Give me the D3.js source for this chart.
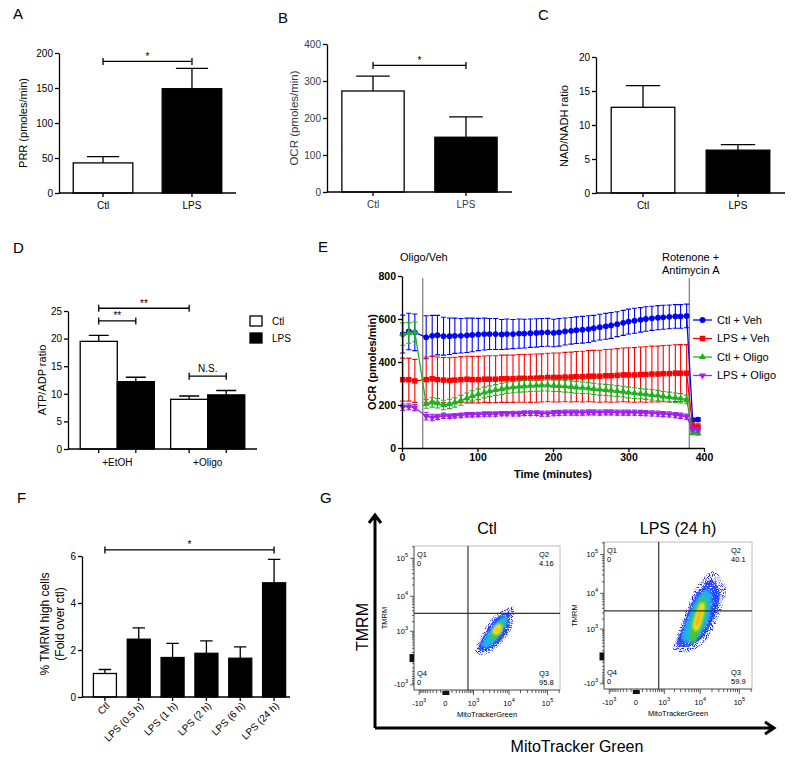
<!DOCTYPE html>
<html lang="en">
<head>
<meta charset="utf-8">
<title>Metabolic profile of LPS-treated cells</title>
<script src="https://d3js.org/d3.v7.min.js"></script>
<style>
  body { margin: 0; background: #fff; }
  svg { font-family: "Liberation Sans", Arial, Helvetica, sans-serif; }
  .letter { font-size: 15px; }
  .axis text { font-family: "Liberation Sans", Arial, sans-serif; font-size: 10px; }
  .bold text { font-weight: bold; font-size: 10.5px; }
  .flow text { font-size: 7.5px; }
</style>
</head>
<body>
<div id="frame"></div>
<script>
// ---------- data ----------
const ctlLps = ["Ctl", "LPS"];

// A - proton release rate
const prrMean = [43, 149];
const prrErr = [9, 29];

// B - oxygen consumption rate
const ocrMean = [273, 148];
const ocrErr = [40, 55];

// C - NAD/NADH ratio
const nadMean = [12.6, 6.3];
const nadErr = [3.2, 0.8];

// D - ATP/ADP ratio
const atpGroups = ["+EtOH", "+Oligo"];
const atpCtl = [19.5, 9.0];
const atpCtlErr = [1.1, 0.6];
const atpLps = [12.2, 9.8];
const atpLpsErr = [0.8, 0.8];

// E - OCR trace (minutes)
const eTime = [1, 9, 17, 32, 40, 47, 55, 63, 70, 78, 86, 93, 101, 109, 116, 124, 132, 139, 147, 155, 162, 170, 178,
  185, 193, 201, 208, 216, 224, 231, 239, 247, 254, 262, 270, 277, 285, 293, 300, 308, 316, 323, 331,
  339, 346, 354, 362, 369, 377, 385, 392];
const ctlVeh = [530, 542, 538, 515, 522, 525, 520, 520, 522, 522, 524, 526, 528, 530, 530, 530, 528, 530, 530, 532, 532, 534, 535,
  537, 538, 535, 538, 542, 545, 548, 550, 553, 557, 562, 566, 570, 576, 582, 588, 592, 596, 600, 603,
  606, 608, 610, 612, 612, 614, 130, 132];
const ctlVehErr = [88, 85, 85, 100, 95, 92, 88, 85, 82, 80, 80, 78, 75, 74, 72, 72, 70, 70, 68, 68, 67, 66, 66,
  65, 65, 64, 64, 63, 62, 62, 62, 62, 60, 60, 60, 60, 58, 58, 58, 58, 57, 57, 56,
  56, 56, 55, 55, 55, 55, 8, 8];
const lpsVeh = [318, 318, 312, 318, 322, 318, 316, 314, 316, 318, 320, 318, 318, 320, 320, 320, 322, 322, 322, 324, 324, 324, 325,
  326, 328, 328, 328, 330, 330, 332, 332, 334, 334, 334, 336, 336, 338, 340, 340, 340, 342, 342, 344,
  344, 346, 346, 348, 348, 348, 100, 98];
const lpsVehErr = [100, 100, 100, 105, 105, 105, 105, 106, 106, 107, 107, 108, 108, 108, 109, 109, 110, 110, 110, 111, 111, 112, 112,
  112, 113, 114, 114, 115, 116, 117, 118, 119, 120, 121, 122, 123, 124, 125, 126, 127, 128, 129, 130,
  130, 131, 132, 132, 133, 133, 15, 15];
const ctlOligo = [530, 535, 540, 205, 212, 208, 200, 205, 212, 222, 232, 242, 250, 258, 264, 270, 275, 280, 283, 286, 288, 290, 291,
  292, 292, 290, 289, 287, 285, 282, 280, 278, 275, 272, 270, 268, 265, 262, 258, 255, 253, 250, 247,
  244, 240, 237, 234, 231, 226, 72, 70];
const ctlOligoErr = [52, 48, 46, 20, 22, 22, 22, 22, 22, 23, 24, 24, 25, 25, 25, 25, 26, 26, 26, 26, 27, 27, 27,
  27, 27, 27, 27, 27, 27, 27, 27, 26, 26, 26, 26, 26, 25, 25, 25, 25, 24, 24, 24,
  24, 23, 23, 22, 22, 20, 10, 10];
const lpsOligo = [190, 192, 188, 148, 142, 145, 150, 148, 150, 152, 155, 155, 156, 158, 158, 158, 160, 160, 160, 160, 162, 162, 162,
  160, 160, 162, 163, 164, 165, 165, 165, 166, 166, 165, 166, 166, 165, 165, 164, 164, 163, 162, 161,
  160, 158, 156, 153, 150, 146, 88, 85];
const lpsOligoErr = [15, 14, 14, 18, 15, 12, 12, 10, 10, 10, 10, 10, 10, 10, 10, 10, 10, 10, 11, 11, 11, 11, 11,
  12, 12, 12, 12, 12, 12, 12, 12, 12, 12, 12, 12, 12, 12, 12, 12, 12, 12, 12, 12,
  12, 12, 12, 12, 12, 12, 10, 10];
const eSeries = ["Ctl + Veh", "LPS + Veh", "Ctl + Oligo", "LPS + Oligo"];
const eInject = [27.4, 380.6];

// F - TMRM high cells
const tmrmCats = ["Ctl", "LPS (0.5 h)", "LPS (1 h)", "LPS (2 h)", "LPS (6 h)", "LPS (24 h)"];
const tmrmMean = [1.0, 2.46, 1.68, 1.86, 1.65, 4.86];
const tmrmErr = [0.17, 0.48, 0.6, 0.53, 0.48, 1.0];

// G - flow cytometry (MitoTracker Green vs TMRM)
const flowTitles = ["Ctl", "LPS (24 h)"];
const quadNames = ["Q1", "Q2", "Q3", "Q4"];
const quadCtl = ["0", "4.16", "95.8", "0"];
const quadLps = ["0", "40.1", "59.9", "0"];
const flowMajor = [-1000, 0, 1000, 10000, 100000];
const flowMinor = [-900, -800, -700, -600, -500, -400, -300, -200, -100, 100, 200, 300, 400, 500, 600, 700, 800, 900,
  2000, 3000, 4000, 5000, 6000, 7000, 8000, 9000, 20000, 30000, 40000, 50000, 60000, 70000, 80000, 90000, 200000];
const gateCtl = [650, 3400];
const gateLps = [650, 3400];
// density contour outlines, outer to inner, [MitoTracker, TMRM]
const ctlContours = [
  [[1145, 86], [1622, 620], [3557, 2580], [7940, 4290], [12950, 5190], [12150, 1420], [6620, 400], [2765, 86]],
  [[1420, 178], [1990, 676], [4046, 2265], [8380, 3560], [10760, 3130], [9570, 1220], [5190, 356], [2400, 155]],
  [[1860, 295], [2765, 920], [5190, 2135], [8380, 2950], [8380, 1620], [4535, 480], [2580, 232]],
  [[3130, 564], [4046, 1220], [6180, 1990], [7060, 1520], [5190, 676]],
  [[4046, 920], [4860, 1420], [5850, 1420], [5190, 920]]
];
const lpsContours = [
  [[1860, 132], [2950, 1220], [5520, 7060], [10170, 20700], [22130, 37500], [45300, 13750], [31700, 2765], [15340, 440], [5190, 86]],
  [[2400, 262], [3560, 1420], [6180, 6180], [11360, 15340], [20700, 22130], [31700, 9570], [23560, 2400], [12150, 564], [5190, 201]],
  [[3313, 480], [4535, 1860], [7500, 6180], [13750, 12150], [19630, 8380], [17500, 2400], [10170, 676], [5190, 356]],
  [[5520, 400], [6180, 1723], [9570, 6180], [12950, 7500], [13750, 3313], [9570, 844], [7060, 356]],
  [[7060, 1220], [8970, 3313], [11360, 5190], [11360, 3313], [8380, 1070]]
];

// ---------- drawing ----------
const svg = d3.select("#frame").append("svg")
  .attr("width", 800).attr("height", 767);

const defs = svg.append("defs");
defs.append("filter").attr("id", "soft")
  .append("feGaussianBlur").attr("stdDeviation", 1.2);

// grainy look for the sparse outer events of the density plots
function speckle(id, cut, seed) {
  const f = defs.append("filter").attr("id", id)
    .attr("x", "-5%").attr("y", "-5%").attr("width", "110%").attr("height", "110%");
  f.append("feTurbulence").attr("type", "fractalNoise").attr("baseFrequency", 0.95)
    .attr("numOctaves", 1).attr("seed", seed).attr("result", "noise");
  f.append("feColorMatrix").attr("in", "noise").attr("type", "matrix")
    .attr("values", `0 0 0 0 0  0 0 0 0 0  0 0 0 0 0  6 0 0 0 ${cut}`).attr("result", "mask");
  f.append("feComposite").attr("in", "SourceGraphic").attr("in2", "mask").attr("operator", "in");
}
speckle("grainSparse", -2.9, 3);
speckle("grainDense", -1.9, 7);

function letter(t, x, y) {
  svg.append("text").attr("class", "letter").attr("x", x).attr("y", y).text(t);
}

function vLabel(lines, cx, cy, size, color, weight) {
  const t = svg.append("text")
    .attr("transform", `translate(${cx},${cy}) rotate(-90)`)
    .attr("text-anchor", "middle")
    .attr("font-size", size)
    .attr("fill", color || "#000")
    .attr("font-weight", weight || "normal");
  lines.forEach((l, i) => t.append("tspan").attr("x", 0)
    .attr("dy", i === 0 ? `${0.35 - (lines.length - 1) * 0.625}em` : "1.25em").text(l));
}

function thick(a, color) {
  a.selectAll("path, line").attr("stroke", "#000").attr("stroke-width", 1.3);
  a.selectAll("text").attr("fill", color || "#000");
}

function bracket(g, x1, x2, yy, label) {
  g.append("path")
    .attr("d", `M${x1},${yy - 3.5}V${yy + 3.5}M${x1},${yy}H${x2}M${x2},${yy - 3.5}V${yy + 3.5}`)
    .attr("stroke", "#000").attr("stroke-width", 1.3).attr("fill", "none");
  g.append("text").attr("x", (x1 + x2) / 2).attr("y", yy - (label === "N.S." ? 4 : 1.5))
    .attr("text-anchor", "middle").attr("font-size", 10).attr("fill", "#000").text(label);
}

const intFmt = d3.format("~g");

// simple two/many-bar panel
function barPanel(o) {
  const g = svg.append("g");
  const y = d3.scaleLinear().domain([0, o.ymax]).range([o.bottom, o.top]);
  const x = d3.scaleBand().domain(o.cats).range(o.band).paddingInner(o.pi).paddingOuter(o.po);
  const bw = x.bandwidth();

  g.selectAll("path.err").data(o.cats).join("path")
    .attr("d", (d, i) => {
      const cx = x(d) + bw / 2, c = bw * 0.27, top = y(o.means[i] + o.errs[i]);
      return `M${cx},${y(o.means[i])}V${top}M${cx - c},${top}H${cx + c}`;
    })
    .attr("stroke", "#000").attr("stroke-width", 1.3).attr("fill", "none");

  g.selectAll("rect").data(o.cats).join("rect")
    .attr("x", d => x(d)).attr("width", bw)
    .attr("y", (d, i) => y(o.means[i]))
    .attr("height", (d, i) => y(0) - y(o.means[i]))
    .attr("fill", (d, i) => o.fills[i])
    .attr("stroke", "#000").attr("stroke-width", 1.3);

  const ya = g.append("g").attr("class", "axis")
    .attr("transform", `translate(${o.left},0)`)
    .call(d3.axisLeft(y).tickValues(o.yticks).tickFormat(intFmt).tickSize(4).tickPadding(2).tickSizeOuter(0));
  thick(ya, o.color);

  const xa = g.append("g").attr("class", "axis")
    .attr("transform", `translate(0,${y(0)})`)
    .call(d3.axisBottom(x).tickSize(4).tickPadding(5).tickSizeOuter(0));
  xa.select(".domain").remove();
  xa.append("line").attr("x1", o.left).attr("x2", o.right);
  thick(xa, o.color);
  if (o.rotate) {
    xa.selectAll(".tick text")
      .attr("y", 0).attr("dy", "0.35em")
      .attr("text-anchor", "end")
      .attr("transform", "translate(3,7) rotate(-45)");
  }

  (o.sig || []).forEach(s => {
    bracket(g, x(o.cats[s.a]) + bw / 2, x(o.cats[s.b]) + bw / 2, y(s.y), s.text);
  });
  return g;
}

// ---- A ----
letter("A", 13, 19);
barPanel({
  cats: ctlLps, means: prrMean, errs: prrErr, fills: ["#fff", "#000"],
  ymax: 200, yticks: [0, 50, 100, 150, 200],
  left: 59, right: 236, top: 53, bottom: 193, band: [59, 236], pi: 0.33, po: 0.16,
  sig: [{ a: 0, b: 1, y: 188, text: "*" }]
});
vLabel(["PRR (pmoles/min)"], 23, 123, 11);

// ---- B ----
const bColor = "#333b4a";
letter("B", 278, 23);
barPanel({
  cats: ctlLps, means: ocrMean, errs: ocrErr, fills: ["#fff", "#000"], color: bColor,
  ymax: 400, yticks: [0, 100, 200, 300, 400],
  left: 327, right: 512, top: 44, bottom: 192, band: [327, 512], pi: 0.33, po: 0.16,
  sig: [{ a: 0, b: 1, y: 342, text: "*" }]
});
vLabel(["OCR (pmoles/min)"], 294, 118, 11.5, bColor);

// ---- C ----
letter("C", 538, 20);
barPanel({
  cats: ctlLps, means: nadMean, errs: nadErr, fills: ["#fff", "#000"],
  ymax: 20, yticks: [0, 5, 10, 15, 20],
  left: 596, right: 785, top: 57, bottom: 193, band: [596, 785], pi: 0.33, po: 0.16
});
vLabel(["NAD/NADH ratio"], 564, 126, 11);

// ---- D ----
letter("D", 13, 253);
(function () {
  const g = svg.append("g");
  const left = 68, right = 257, top = 311, bottom = 449;
  const y = d3.scaleLinear().domain([0, 25]).range([bottom, top]);
  const xG = d3.scaleBand().domain(atpGroups).range([left, right]).paddingInner(0.18).paddingOuter(0.135);
  const xC = d3.scaleBand().domain(ctlLps).range([0, xG.bandwidth()]);
  const rows = atpGroups.flatMap((grp, gi) => [
    { grp, cat: "Ctl", m: atpCtl[gi], e: atpCtlErr[gi], fill: "#fff" },
    { grp, cat: "LPS", m: atpLps[gi], e: atpLpsErr[gi], fill: "#000" }
  ]);
  const cx = d => xG(d.grp) + xC(d.cat) + xC.bandwidth() / 2;
  const bw = xC.bandwidth();

  g.selectAll("path.err").data(rows).join("path")
    .attr("d", d => `M${cx(d)},${y(d.m)}V${y(d.m + d.e)}M${cx(d) - bw * 0.27},${y(d.m + d.e)}H${cx(d) + bw * 0.27}`)
    .attr("stroke", "#000").attr("stroke-width", 1.3);
  g.selectAll("rect").data(rows).join("rect")
    .attr("x", d => xG(d.grp) + xC(d.cat)).attr("width", bw)
    .attr("y", d => y(d.m)).attr("height", d => y(0) - y(d.m))
    .attr("fill", d => d.fill).attr("stroke", "#000").attr("stroke-width", 1.3);

  const ya = g.append("g").attr("class", "axis").attr("transform", `translate(${left},0)`)
    .call(d3.axisLeft(y).tickValues([0, 5, 10, 15, 20, 25]).tickFormat(intFmt).tickSize(4).tickPadding(2).tickSizeOuter(0));
  thick(ya);
  g.append("line").attr("x1", left).attr("x2", right).attr("y1", y(0)).attr("y2", y(0))
    .attr("stroke", "#000").attr("stroke-width", 1.3);
  g.selectAll("line.tk").data(rows).join("line")
    .attr("x1", cx).attr("x2", cx).attr("y1", y(0)).attr("y2", y(0) + 4)
    .attr("stroke", "#000").attr("stroke-width", 1.3);
  g.selectAll("text.grp").data(atpGroups).join("text")
    .attr("x", d => xG(d) + xG.bandwidth() / 2).attr("y", y(0) + 17)
    .attr("text-anchor", "middle").attr("font-size", 10).text(d => d);

  const pos = (grp, cat) => rows.find(r => r.grp === grp && r.cat === cat);
  bracket(g, cx(pos("+EtOH", "Ctl")), cx(pos("+Oligo", "Ctl")), y(25.5), "**");
  bracket(g, cx(pos("+EtOH", "Ctl")), cx(pos("+EtOH", "LPS")), y(23.2), "**");
  bracket(g, cx(pos("+Oligo", "Ctl")), cx(pos("+Oligo", "LPS")), y(13.2), "N.S.");

  // legend
  const lg = g.selectAll("g.leg").data(ctlLps).join("g")
    .attr("transform", (d, i) => `translate(250,${316 + i * 17})`);
  lg.append("rect").attr("width", 12).attr("height", 10)
    .attr("fill", (d, i) => i === 0 ? "#fff" : "#000").attr("stroke", "#000").attr("stroke-width", 1.3);
  lg.append("text").attr("x", 22).attr("y", 8.5).attr("font-size", 10).text(d => d);
})();
vLabel(["ATP/ADP ratio"], 42, 380, 11);

// ---- E ----
letter("E", 318, 252);
(function () {
  const g = svg.append("g");
  const x = d3.scaleLinear().domain([0, 400]).range([402, 704]);
  const y = d3.scaleLinear().domain([0, 800]).range([448, 276]);

  eInject.forEach(t => g.append("line")
    .attr("x1", x(t)).attr("x2", x(t)).attr("y1", y(790)).attr("y2", y(0))
    .attr("stroke", "#8a8a8a").attr("stroke-width", 1.4));

  const styles = [
    { color: "#0000ff", sym: d3.symbolCircle, size: 26, rot: 0 },
    { color: "#ff0000", sym: d3.symbolSquare, size: 30, rot: 0 },
    { color: "#1db31d", sym: d3.symbolTriangle, size: 22, rot: 0 },
    { color: "#a020f0", sym: d3.symbolTriangle, size: 22, rot: 180 }
  ];
  const means = [ctlVeh, lpsVeh, ctlOligo, lpsOligo];
  const errs = [ctlVehErr, lpsVehErr, ctlOligoErr, lpsOligoErr];

  eSeries.forEach((name, si) => {
    const st = styles[si];
    const pts = eTime.map((t, i) => ({ t, m: means[si][i], e: errs[si][i] }));
    const sg = g.append("g");
    sg.selectAll("path.err").data(pts).join("path")
      .attr("d", d => {
        const px = x(d.t), lo = y(d.m - d.e), hi = y(d.m + d.e);
        return `M${px},${lo}V${hi}M${px - 2.6},${hi}H${px + 2.6}M${px - 2.6},${lo}H${px + 2.6}`;
      })
      .attr("stroke", st.color).attr("stroke-width", 1.1).attr("fill", "none");
    sg.append("path").datum(pts)
      .attr("d", d3.line().x(d => x(d.t)).y(d => y(d.m)))
      .attr("stroke", st.color).attr("stroke-width", 1.3).attr("fill", "none");
    sg.selectAll("path.mk").data(pts).join("path")
      .attr("d", d3.symbol().type(st.sym).size(st.size))
      .attr("transform", d => `translate(${x(d.t)},${y(d.m)}) rotate(${st.rot})`)
      .attr("fill", st.color);
  });

  const ya = g.append("g").attr("class", "axis bold").attr("transform", "translate(402,0)")
    .call(d3.axisLeft(y).tickValues([0, 200, 400, 600, 800]).tickSize(4).tickPadding(2).tickSizeOuter(0));
  thick(ya);
  const xa = g.append("g").attr("class", "axis bold").attr("transform", `translate(0,${y(0)})`)
    .call(d3.axisBottom(x).tickValues([0, 100, 200, 300, 400]).tickSize(4).tickPadding(2).tickSizeOuter(0));
  thick(xa);

  g.append("text").attr("x", 553).attr("y", 478).attr("text-anchor", "middle")
    .attr("font-size", 11).attr("font-weight", "bold").text("Time (minutes)");

  g.append("text").attr("x", 400).attr("y", 261).attr("font-size", 11).text("Oligo/Veh");
  g.append("text").attr("x", 662).attr("y", 261).attr("font-size", 11).text("Rotenone +");
  g.append("text").attr("x", 662).attr("y", 274).attr("font-size", 11).text("Antimycin A");

  const lg = g.selectAll("g.leg").data(eSeries).join("g")
    .attr("transform", (d, i) => `translate(693,${320 + i * 18.5})`);
  lg.append("line").attr("x1", 0).attr("x2", 19)
    .attr("stroke", (d, i) => styles[i].color).attr("stroke-width", 1.3);
  lg.append("path")
    .attr("d", (d, i) => d3.symbol().type(styles[i].sym).size(styles[i].size)())
    .attr("transform", (d, i) => `translate(9.5,0) rotate(${styles[i].rot})`)
    .attr("fill", (d, i) => styles[i].color);
  lg.append("text").attr("x", 24).attr("y", 3.8).attr("font-size", 11).text(d => d);
})();
vLabel(["OCR (pmoles/min)"], 372, 362, 11, "#000", "bold");

// ---- F ----
letter("F", 17, 503);
barPanel({
  cats: tmrmCats, means: tmrmMean, errs: tmrmErr, fills: ["#fff", "#000", "#000", "#000", "#000", "#000"],
  ymax: 6, yticks: [0, 2, 4, 6],
  left: 82, right: 290, top: 556, bottom: 697, band: [88, 291], pi: 0.32, po: 0.16,
  rotate: true,
  sig: [{ a: 0, b: 5, y: 6.26, text: "*" }]
});
vLabel(["% TMRM high cells", "(Fold over ctl)"], 52, 624, 12);

// ---- G ----
letter("G", 320, 503);
// sparse blue, dense blue, cyan, green, yellow rim, red core
const densityColors = ["#1a22e8", "#2046ff", "#1cb4e6", "#3cc83c", "#f0e418", "#ff4418"];
const flowDomain = [-1450, 210000];

function supText(sel, v) {
  if (v === 0) { sel.text("0"); return; }
  const e = Math.round(Math.log10(Math.abs(v)));
  sel.append("tspan").text((v < 0 ? "-" : "") + "10");
  sel.append("tspan").attr("dy", -4).attr("font-size", 5.5).text(e);
}

function flowPanel(o) {
  const g = svg.append("g").attr("class", "flow");
  const x = d3.scaleSymlog().constant(250).domain(flowDomain).range([o.l, o.r]);
  const y = d3.scaleSymlog().constant(250).domain(flowDomain).range([o.b, o.t]);

  const shape = d3.line().x(d => x(d[0])).y(d => y(d[1])).curve(d3.curveCardinalClosed.tension(0.1));
  // sparse outer events, then dense blue, then coloured core
  g.append("path").datum(o.contours[0]).attr("d", shape)
    .attr("fill", densityColors[0]).attr("filter", "url(#grainSparse)");
  g.append("path").datum(o.contours[1]).attr("d", shape)
    .attr("fill", densityColors[1]).attr("filter", "url(#grainDense)");
  const core = g.append("g").attr("filter", "url(#soft)");
  core.append("path").datum(o.contours[2]).attr("d", shape)
    .attr("fill", densityColors[2]);
  core.append("path").datum(o.contours[3]).attr("d", shape)
    .attr("fill", densityColors[3]).attr("stroke", densityColors[3]).attr("stroke-width", 1.5);
  core.append("path").datum(o.contours[4]).attr("d", shape)
    .attr("fill", densityColors[5]).attr("stroke", densityColors[4]).attr("stroke-width", 3);

  g.append("rect").attr("x", o.l).attr("y", o.t).attr("width", o.r - o.l).attr("height", o.b - o.t)
    .attr("fill", "none").attr("stroke", "#bdbdbd").attr("stroke-width", 1);
  g.append("path").attr("d", `M${o.l},${o.t}V${o.b}H${o.r}`)
    .attr("fill", "none").attr("stroke", "#666").attr("stroke-width", 1);

  // gates
  g.append("line").attr("x1", x(o.gate[0])).attr("x2", x(o.gate[0])).attr("y1", o.t).attr("y2", o.b)
    .attr("stroke", "#333").attr("stroke-width", 1.2);
  g.append("line").attr("x1", o.l).attr("x2", o.r).attr("y1", y(o.gate[1])).attr("y2", y(o.gate[1]))
    .attr("stroke", "#333").attr("stroke-width", 1.2);

  // ticks
  const all = flowMajor.map(v => ({ v, major: true })).concat(flowMinor.map(v => ({ v, major: false })));
  g.selectAll("line.ty").data(all).join("line")
    .attr("x1", o.l).attr("x2", d => o.l - (d.major ? 4 : 2))
    .attr("y1", d => y(d.v)).attr("y2", d => y(d.v))
    .attr("stroke", "#333").attr("stroke-width", 0.8);
  g.selectAll("line.tx").data(all).join("line")
    .attr("y1", o.b).attr("y2", d => o.b + (d.major ? 5 : 3))
    .attr("x1", d => x(d.v)).attr("x2", d => x(d.v))
    .attr("stroke", "#333").attr("stroke-width", 0.8);
  // pile-up of events at zero
  g.append("rect").attr("x", o.l - 4.5).attr("y", y(0) - 4).attr("width", 4.5).attr("height", 8).attr("fill", "#111");
  g.append("rect").attr("x", x(0) - 4).attr("y", o.b + 1).attr("width", 7).attr("height", 4).attr("fill", "#111");

  g.selectAll("text.ly").data(flowMajor.filter(v => v !== 0)).join("text")
    .attr("x", o.l - 6).attr("y", d => y(d) + 2.5).attr("text-anchor", "end")
    .each(function (d) { supText(d3.select(this), d); });
  g.selectAll("text.lx").data(flowMajor).join("text")
    .attr("x", d => x(d) + (d === 0 ? -1 : 0)).attr("y", o.b + 16).attr("text-anchor", "middle")
    .each(function (d) { supText(d3.select(this), d); });

  g.append("text").attr("x", (o.l + o.r) / 2).attr("y", o.b + 26.5).attr("text-anchor", "middle")
    .attr("font-size", 7.5).text("MitoTrackerGreen");
  g.append("text").attr("transform", `translate(${o.l - 27},${(o.t + o.b) / 2}) rotate(-90)`)
    .attr("text-anchor", "middle").attr("font-size", 7).text("TMRM");

  svg.append("text").attr("x", (o.l + o.r) / 2).attr("y", 533.5).attr("text-anchor", "middle")
    .attr("font-size", 16).text(o.title);

  // quadrants: Q1 top-left, Q2 top-right, Q3 bottom-right, Q4 bottom-left
  const qx = [o.l + 3, o.r - 21, o.r - 21, o.l + 3];
  const qy = [o.t + 10.5, o.t + 10.5, o.b - 14.5, o.b - 14.5];
  quadNames.forEach((q, i) => {
    g.append("text").attr("x", qx[i]).attr("y", qy[i]).text(q);
    g.append("text").attr("x", qx[i]).attr("y", qy[i] + 9).text(o.quads[i]);
  });
}

flowPanel({ l: 414, r: 560, t: 546, b: 690, contours: ctlContours, gate: gateCtl, title: flowTitles[0], quads: quadCtl });
flowPanel({ l: 604, r: 752, t: 542, b: 689, contours: lpsContours, gate: gateLps, title: flowTitles[1], quads: quadLps });

// big axis arrows
svg.append("path").attr("d", "M375,728V516M369,523L375,515L381,523M375,728H773M765,722L774,728L765,734")
  .attr("fill", "none").attr("stroke", "#000").attr("stroke-width", 3);
svg.append("text").attr("transform", "translate(362,627) rotate(-90)").attr("dy", "0.35em")
  .attr("text-anchor", "middle").attr("font-size", 16).text("TMRM");
svg.append("text").attr("x", 577).attr("y", 752).attr("text-anchor", "middle")
  .attr("font-size", 16).text("MitoTracker Green");
</script>
</body>
</html>
